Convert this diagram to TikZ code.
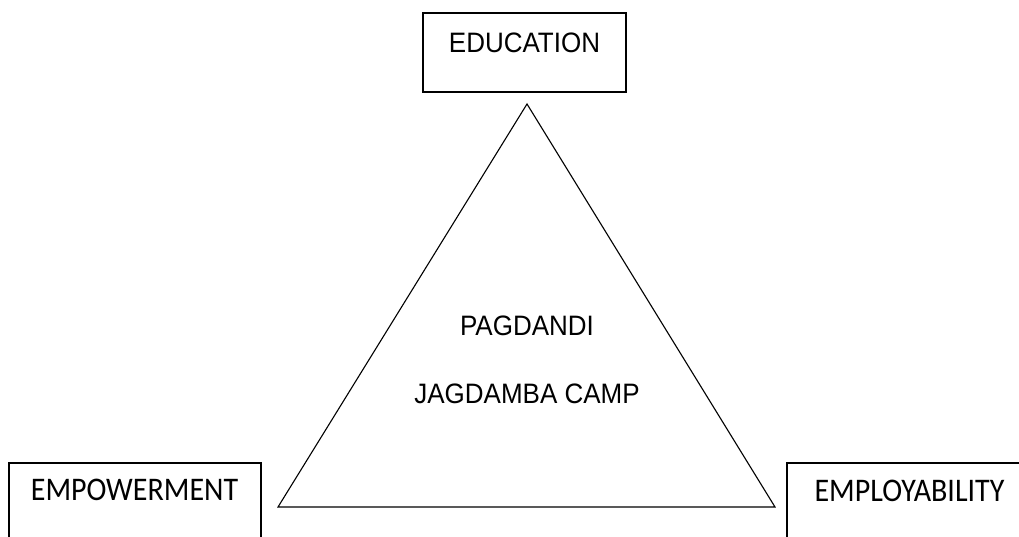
\documentclass[tikz,border=0pt]{standalone}
\usepackage{fontspec}
\usepackage{graphicx}
\setmainfont{Liberation Sans}
\newfontfamily\calfont{Carlito}
\newcommand{\tallA}[1]{\scalebox{1}[1.08]{#1}}
\newcommand{\tallC}[1]{\scalebox{1}[1.1]{#1}}
\begin{document}
\begin{tikzpicture}[x=1pt,y=1pt,
  boxshape/.style={draw, line width=1.4pt, inner sep=0pt},
  ariallbl/.style={font=\fontsize{26}{30}\selectfont, anchor=base, inner sep=0pt},
  callbl/.style={font=\calfont\fontsize{30}{34}\selectfont, anchor=base, inner sep=0pt},
  tri/.style={draw, line width=1.1pt, line join=miter}]
\useasboundingbox (0,0) rectangle (1019,536);
\clip (0,0) rectangle (1019,536);
% boxes
\node[boxshape, minimum width=203pt, minimum height=79pt] (edu) at (524.5,483.5) {};
\node[ariallbl] (edutxt) at ([yshift=-40pt]edu.north) {\tallA{EDUCATION}};
\node[boxshape, minimum width=252pt, minimum height=100pt] (emp) at (135,23) {};
\node[callbl] (emptxt) at ([yshift=-38pt, xshift=-0.5pt]emp.north) {\tallC{EMPOWERMENT}};
\node[boxshape, minimum width=260pt, minimum height=100pt] (empl) at (917,23) {};
\node[callbl] (empltxt) at (909.5,35) {\tallC{EMPLOYABILITY}};
% triangle
\coordinate (apex) at (527,432);
\coordinate (bl) at (278,29);
\coordinate (br) at (775,29);
\draw[tri] (apex) -- (br) -- (bl) -- cycle;
% centre text
\node[ariallbl] (pag) at (527,201) {\tallA{PAGDANDI}};
\node[ariallbl] (jag) at (527,133) {\tallA{JAGDAMBA CAMP}};
\end{tikzpicture}
\end{document}
